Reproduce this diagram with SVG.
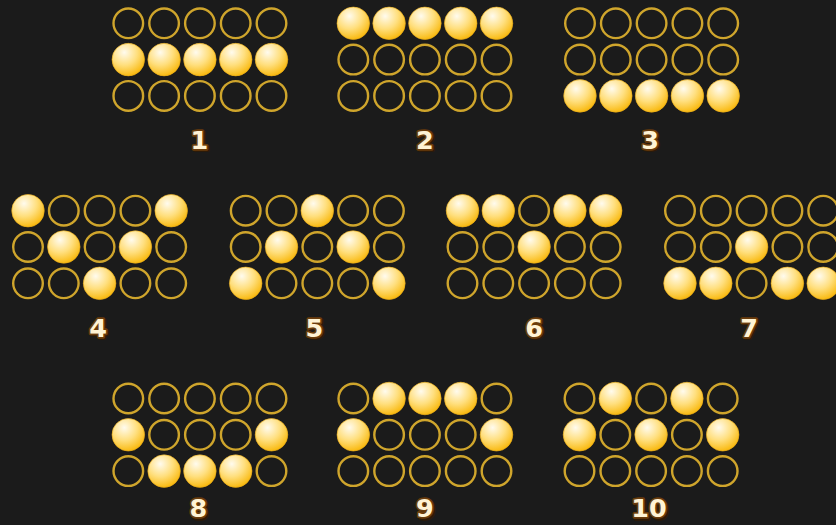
<svg xmlns="http://www.w3.org/2000/svg" xmlns:xlink="http://www.w3.org/1999/xlink" width="836" height="525" viewBox="0 0 836 525">
<style>
.e{fill:none;stroke:#cfa52c;stroke-width:2.4}
.f{fill:url(#g);stroke:#e0a415;stroke-width:0.6}
.lb{font-family:"DejaVu Sans",Verdana,sans-serif;font-weight:bold;font-size:25.5px;text-anchor:middle;fill:#fff3d4;stroke:#6a3c0c;stroke-width:3.6;paint-order:stroke;stroke-linejoin:round}
.sh{font-family:"DejaVu Sans",Verdana,sans-serif;font-weight:bold;font-size:25.5px;text-anchor:middle;fill:#2e1a06;stroke:#2e1a06;stroke-width:3.6;stroke-linejoin:round}
</style>
<defs>
<radialGradient id="g" cx="0.38" cy="0.28" r="0.78">
<stop offset="0" stop-color="#fffbee"/>
<stop offset="0.5" stop-color="#ffdf7e"/>
<stop offset="1" stop-color="#f8b400"/>
</radialGradient>
<g id="grid">
<circle class="e" cx="0" cy="0" r="14.8"/><circle class="e" cx="35.8" cy="0" r="14.8"/><circle class="e" cx="71.6" cy="0" r="14.8"/><circle class="e" cx="107.4" cy="0" r="14.8"/><circle class="e" cx="143.2" cy="0" r="14.8"/>
<circle class="e" cx="0" cy="36.3" r="14.8"/><circle class="e" cx="35.8" cy="36.3" r="14.8"/><circle class="e" cx="71.6" cy="36.3" r="14.8"/><circle class="e" cx="107.4" cy="36.3" r="14.8"/><circle class="e" cx="143.2" cy="36.3" r="14.8"/>
<circle class="e" cx="0" cy="72.6" r="14.8"/><circle class="e" cx="35.8" cy="72.6" r="14.8"/><circle class="e" cx="71.6" cy="72.6" r="14.8"/><circle class="e" cx="107.4" cy="72.6" r="14.8"/><circle class="e" cx="143.2" cy="72.6" r="14.8"/>
</g>
</defs>
<rect width="836" height="525" fill="#1b1b1b"/>

<g id="pattern1" transform="translate(128.3,23.3)">
<use xlink:href="#grid"/>
<circle class="f" cx="0" cy="36.3" r="16.3"/><circle class="f" cx="35.8" cy="36.3" r="16.3"/><circle class="f" cx="71.6" cy="36.3" r="16.3"/><circle class="f" cx="107.4" cy="36.3" r="16.3"/><circle class="f" cx="143.2" cy="36.3" r="16.3"/>
<text class="sh" x="72.6" y="127.2">1</text><text class="lb" x="71.2" y="125.7">1</text>
</g>

<g id="pattern2" transform="translate(353.3,23.3)">
<use xlink:href="#grid"/>
<circle class="f" cx="0" cy="0" r="16.3"/><circle class="f" cx="35.8" cy="0" r="16.3"/><circle class="f" cx="71.6" cy="0" r="16.3"/><circle class="f" cx="107.4" cy="0" r="16.3"/><circle class="f" cx="143.2" cy="0" r="16.3"/>
<text class="sh" x="73.1" y="127.2">2</text><text class="lb" x="71.7" y="125.7">2</text>
</g>

<g id="pattern3" transform="translate(580,23.3)">
<use xlink:href="#grid"/>
<circle class="f" cx="0" cy="72.6" r="16.3"/><circle class="f" cx="35.8" cy="72.6" r="16.3"/><circle class="f" cx="71.6" cy="72.6" r="16.3"/><circle class="f" cx="107.4" cy="72.6" r="16.3"/><circle class="f" cx="143.2" cy="72.6" r="16.3"/>
<text class="sh" x="71.4" y="127.2">3</text><text class="lb" x="70" y="125.7">3</text>
</g>

<g id="pattern4" transform="translate(28,210.7)">
<use xlink:href="#grid"/>
<circle class="f" cx="0" cy="0" r="16.3"/><circle class="f" cx="143.2" cy="0" r="16.3"/>
<circle class="f" cx="35.8" cy="36.3" r="16.3"/><circle class="f" cx="107.4" cy="36.3" r="16.3"/>
<circle class="f" cx="71.6" cy="72.6" r="16.3"/>
<text class="sh" x="71.4" y="127.8">4</text><text class="lb" x="70" y="126.3">4</text>
</g>

<g id="pattern5" transform="translate(245.7,210.7)">
<use xlink:href="#grid"/>
<circle class="f" cx="71.6" cy="0" r="16.3"/>
<circle class="f" cx="35.8" cy="36.3" r="16.3"/><circle class="f" cx="107.4" cy="36.3" r="16.3"/>
<circle class="f" cx="0" cy="72.6" r="16.3"/><circle class="f" cx="143.2" cy="72.6" r="16.3"/>
<text class="sh" x="70.1" y="127.8">5</text><text class="lb" x="68.7" y="126.3">5</text>
</g>

<g id="pattern6" transform="translate(462.5,210.7)">
<use xlink:href="#grid"/>
<circle class="f" cx="0" cy="0" r="16.3"/><circle class="f" cx="35.8" cy="0" r="16.3"/><circle class="f" cx="107.4" cy="0" r="16.3"/><circle class="f" cx="143.2" cy="0" r="16.3"/>
<circle class="f" cx="71.6" cy="36.3" r="16.3"/>
<text class="sh" x="72.9" y="127.8">6</text><text class="lb" x="71.5" y="126.3">6</text>
</g>

<g id="pattern7" transform="translate(680,210.7)">
<use xlink:href="#grid"/>
<circle class="f" cx="71.6" cy="36.3" r="16.3"/>
<circle class="f" cx="0" cy="72.6" r="16.3"/><circle class="f" cx="35.8" cy="72.6" r="16.3"/><circle class="f" cx="107.4" cy="72.6" r="16.3"/><circle class="f" cx="143.2" cy="72.6" r="16.3"/>
<text class="sh" x="70.4" y="127.8">7</text><text class="lb" x="69" y="126.3">7</text>
</g>

<g id="pattern8" transform="translate(128.3,398.5)">
<use xlink:href="#grid"/>
<circle class="f" cx="0" cy="36.3" r="16.3"/><circle class="f" cx="143.2" cy="36.3" r="16.3"/>
<circle class="f" cx="35.8" cy="72.6" r="16.3"/><circle class="f" cx="71.6" cy="72.6" r="16.3"/><circle class="f" cx="107.4" cy="72.6" r="16.3"/>
<text class="sh" x="71.4" y="120.3">8</text><text class="lb" x="70" y="118.8">8</text>
</g>

<g id="pattern9" transform="translate(353.3,398.5)">
<use xlink:href="#grid"/>
<circle class="f" cx="35.8" cy="0" r="16.3"/><circle class="f" cx="71.6" cy="0" r="16.3"/><circle class="f" cx="107.4" cy="0" r="16.3"/>
<circle class="f" cx="0" cy="36.3" r="16.3"/><circle class="f" cx="143.2" cy="36.3" r="16.3"/>
<text class="sh" x="73.1" y="120.3">9</text><text class="lb" x="71.7" y="118.8">9</text>
</g>

<g id="pattern10" transform="translate(579.5,398.5)">
<use xlink:href="#grid"/>
<circle class="f" cx="35.8" cy="0" r="16.3"/><circle class="f" cx="107.4" cy="0" r="16.3"/>
<circle class="f" cx="0" cy="36.3" r="16.3"/><circle class="f" cx="71.6" cy="36.3" r="16.3"/><circle class="f" cx="143.2" cy="36.3" r="16.3"/>
<text class="sh" x="70.9" y="120.3">10</text><text class="lb" x="69.5" y="118.8">10</text>
</g>
</svg>
